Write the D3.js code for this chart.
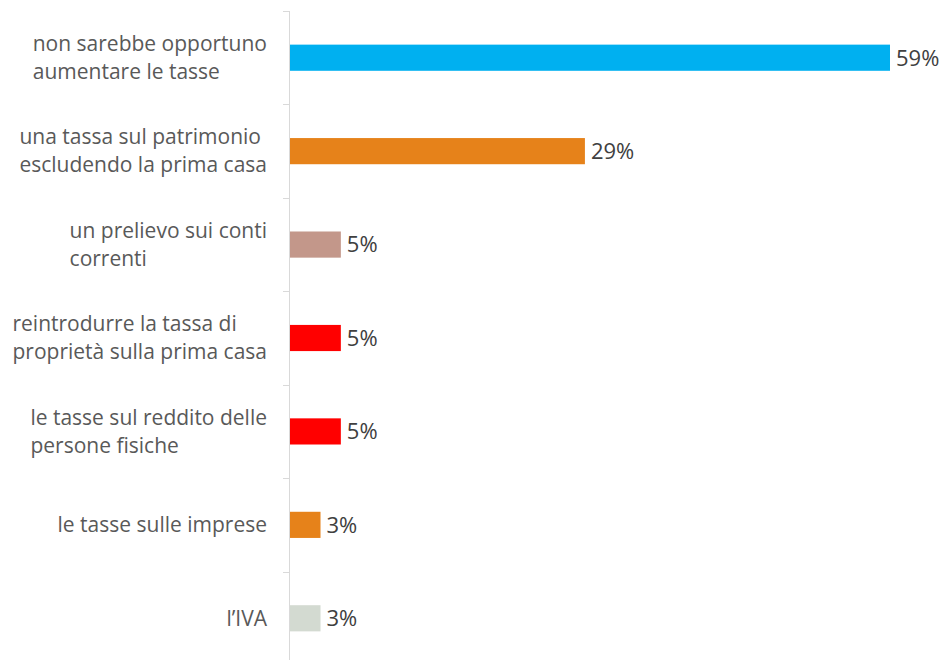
<!DOCTYPE html>
<html>
<head>
<meta charset="utf-8">
<script src="https://cdn.jsdelivr.net/npm/d3@7"></script>
<style>
  body { margin: 0; background: #fff; }
  svg { display: block; }
</style>
</head>
<body>
<svg id="chart" width="946" height="660"></svg>
<script>
// categories (each label split into its lines)
const categories = [
  ["non sarebbe opportuno", "aumentare le tasse"],
  ["una tassa sul patrimonio", "escludendo la prima casa"],
  ["un prelievo sui conti", "correnti"],
  ["reintrodurre la tassa di", "proprietà sulla prima casa"],
  ["le tasse sul reddito delle", "persone fisiche"],
  ["le tasse sulle imprese"],
  ["l’IVA"]
];
const values = [59, 29, 5, 5, 5, 3, 3];
const colors = ["#00b0f0", "#e6821a", "#c3978a", "#ff0000", "#ff0000", "#e6821a", "#d3dad1"];

const svg = d3.select("#chart");
const marginLeft = 289, marginTop = 11;
const plotW = 600, plotH = 654;
const font = "'Open Sans', 'Noto Sans', sans-serif";

const x = d3.scaleLinear().domain([0, 59]).range([0, plotW]);
const y = d3.scaleBand()
  .domain(d3.range(categories.length))
  .range([0, plotH])
  .paddingInner(0.72)
  .paddingOuter(0.36);

const g = svg.append("g").attr("transform", "translate(" + marginLeft + "," + marginTop + ")");

// axis line + ticks between categories
g.append("line")
  .attr("x1", 0.5).attr("x2", 0.5)
  .attr("y1", 0).attr("y2", plotH)
  .attr("stroke", "#d9d9d9").attr("stroke-width", 1);

g.selectAll(".tick")
  .data(d3.range(categories.length + 1))
  .enter()
  .append("line")
  .attr("x1", -6).attr("x2", 0)
  .attr("y1", d => Math.round(d * plotH / categories.length) + 0.5)
  .attr("y2", d => Math.round(d * plotH / categories.length) + 0.5)
  .attr("stroke", "#d9d9d9");

// bars
g.selectAll(".bar")
  .data(values)
  .enter()
  .append("rect")
  .attr("x", 1)
  .attr("y", (d, i) => y(i))
  .attr("width", d => x(d))
  .attr("height", y.bandwidth())
  .attr("fill", (d, i) => colors[i]);

// value labels
g.selectAll(".val")
  .data(values)
  .enter()
  .append("text")
  .attr("x", d => x(d) + 7)
  .attr("y", (d, i) => y(i) + y.bandwidth() / 2)
  .attr("dy", "0.36em")
  .attr("font-family", font)
  .attr("font-size", 22)
  .attr("fill", "#404040")
  .text(d => d + "%");

// category labels: block right-aligned, lines left-aligned inside
const lineH = 28;
const labels = g.selectAll(".lab")
  .data(categories)
  .enter()
  .append("text")
  .attr("font-family", font)
  .attr("font-size", 21)
  .attr("fill", "#595959");

labels.each(function (lines, i) {
  const t = d3.select(this);
  const cy = y(i) + y.bandwidth() / 2;
  const y0 = cy - (lines.length - 1) * lineH / 2;
  lines.forEach((s, j) => {
    t.append("tspan").attr("y", y0 + j * lineH).attr("dy", "0.35em").text(s);
  });
  let w = 0;
  t.selectAll("tspan").each(function () { w = Math.max(w, this.getComputedTextLength()); });
  t.selectAll("tspan").attr("x", -22 - w);
});
</script>
</body>
</html>
